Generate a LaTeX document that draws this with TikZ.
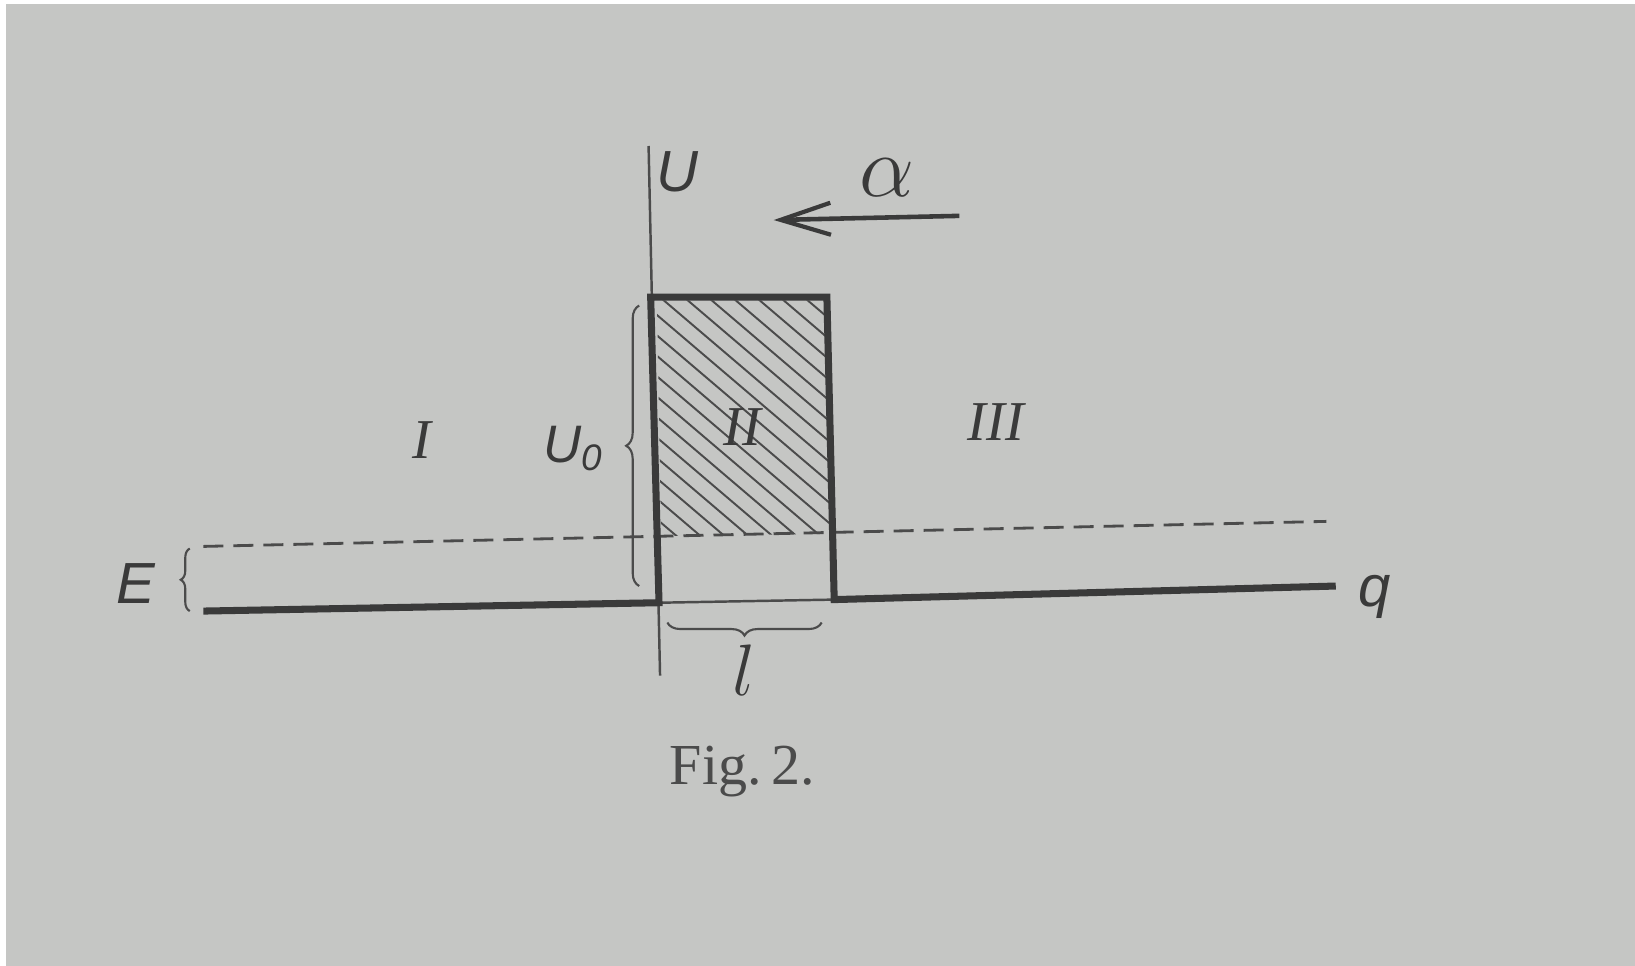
\documentclass[tikz,border=0pt]{standalone}
\usepackage{fontspec}
\setmainfont{Liberation Serif}
\newfontfamily\handfont{Liberation Sans}
\usetikzlibrary{arrows.meta,decorations.pathreplacing}
\definecolor{paper}{RGB}{197,198,196}
\definecolor{ink}{RGB}{58,58,58}
\definecolor{thinink}{RGB}{75,75,75}
\tikzset{
  thick line/.style={draw=ink,line width=2pt,line join=miter},
  thin line/.style={draw=thinink,line width=0.7pt},
  dashline/.style={draw=thinink,line width=0.8pt,dash pattern=on 0.2cm off 0.1cm},
  hatchline/.style={draw=thinink,line width=0.55pt},
  bracestyle/.style={draw=thinink,line width=0.6pt,decorate},
  lbl/.style={inner sep=0pt,text=ink,font=\handfont\itshape\fontsize{16.5}{18}\selectfont},
  roman/.style={inner sep=0pt,text=ink,font=\itshape\fontsize{16}{18}\selectfont},
}
\begin{document}
\begin{tikzpicture}[x=0.010427cm,y=-0.010427cm]
\useasboundingbox (0,0) rectangle (1568,926);
\fill[white] (0,0) rectangle (1568,926);
\fill[paper] (6,4) rectangle (1568,926);
% coordinates
\coordinate (axTop) at (622,140);
\coordinate (axBot) at (633,648);
\coordinate (bTL) at (624,285);
\coordinate (bTR) at (793,285);
\coordinate (bBR) at (800,575);
\coordinate (bBL) at (632,578);
\coordinate (baseL) at (195,586);
\coordinate (baseR) at (1281,562);
\coordinate (dashL) at (195,524);
\coordinate (dashR) at (1272,500);
\coordinate (arrS) at (920,207);
\coordinate (arrE) at (742,211);
% hatching
\begin{scope}
  \clip (630,288) -- (791,288) -- (797,512) -- (634,514) -- cycle;
  \foreach \s in {380,403,...,820} {
    \draw[hatchline] (\s,285) -- ++(270,230);
  }
\end{scope}
% dashed energy line
\draw[dashline] (dashL) -- (dashR);
% axis
\draw[thin line] (axTop) -- (axBot);
% thin bottom of box
\draw[thin line] (bBL) -- (bBR);
% potential
\draw[thick line] (baseL) -- (bBL) -- (bTL) -- (bTR) -- (bBR) -- (baseR);
% arrow
\draw[draw=ink,line width=1.3pt,-{Straight Barb[length=0.5cm,width=0.32cm,line width=1.2pt]}] (arrS) -- (arrE);
% braces
\draw[bracestyle,decoration={brace,amplitude=0.13cm}] (613,562) -- (613,293);
\draw[bracestyle,decoration={brace,amplitude=0.09cm}] (182,586) -- (182,526);
\draw[bracestyle,decoration={brace,amplitude=0.13cm}] (788,597) -- (640,597);
% labels
\node[lbl] (U) at (650,165) {U};
\node[lbl] (E) at (130,560) {E};
\node[lbl] (q) at (1318,572) {q};
\node[lbl,font=\handfont\itshape\fontsize{15}{17}\selectfont] (U0) at (550,430) {U\textsubscript{0}};
\node[roman] (I) at (405,422) {I};
\node[roman] (II) at (712,410) {II};
\node[roman] (III) at (955,405) {III};
\node[inner sep=0pt,text=ink] (alpha) at (851,170) {\fontsize{23}{25}\selectfont$\alpha$};
\node[inner sep=0pt,text=ink] (l) at (713,643) {\fontsize{21}{23}\selectfont$l$};
\node[inner sep=0pt,text=thinink,font=\fontsize{16.5}{18}\selectfont] (fig) at (712,740) {Fig.\,2.};
\end{tikzpicture}
\end{document}
